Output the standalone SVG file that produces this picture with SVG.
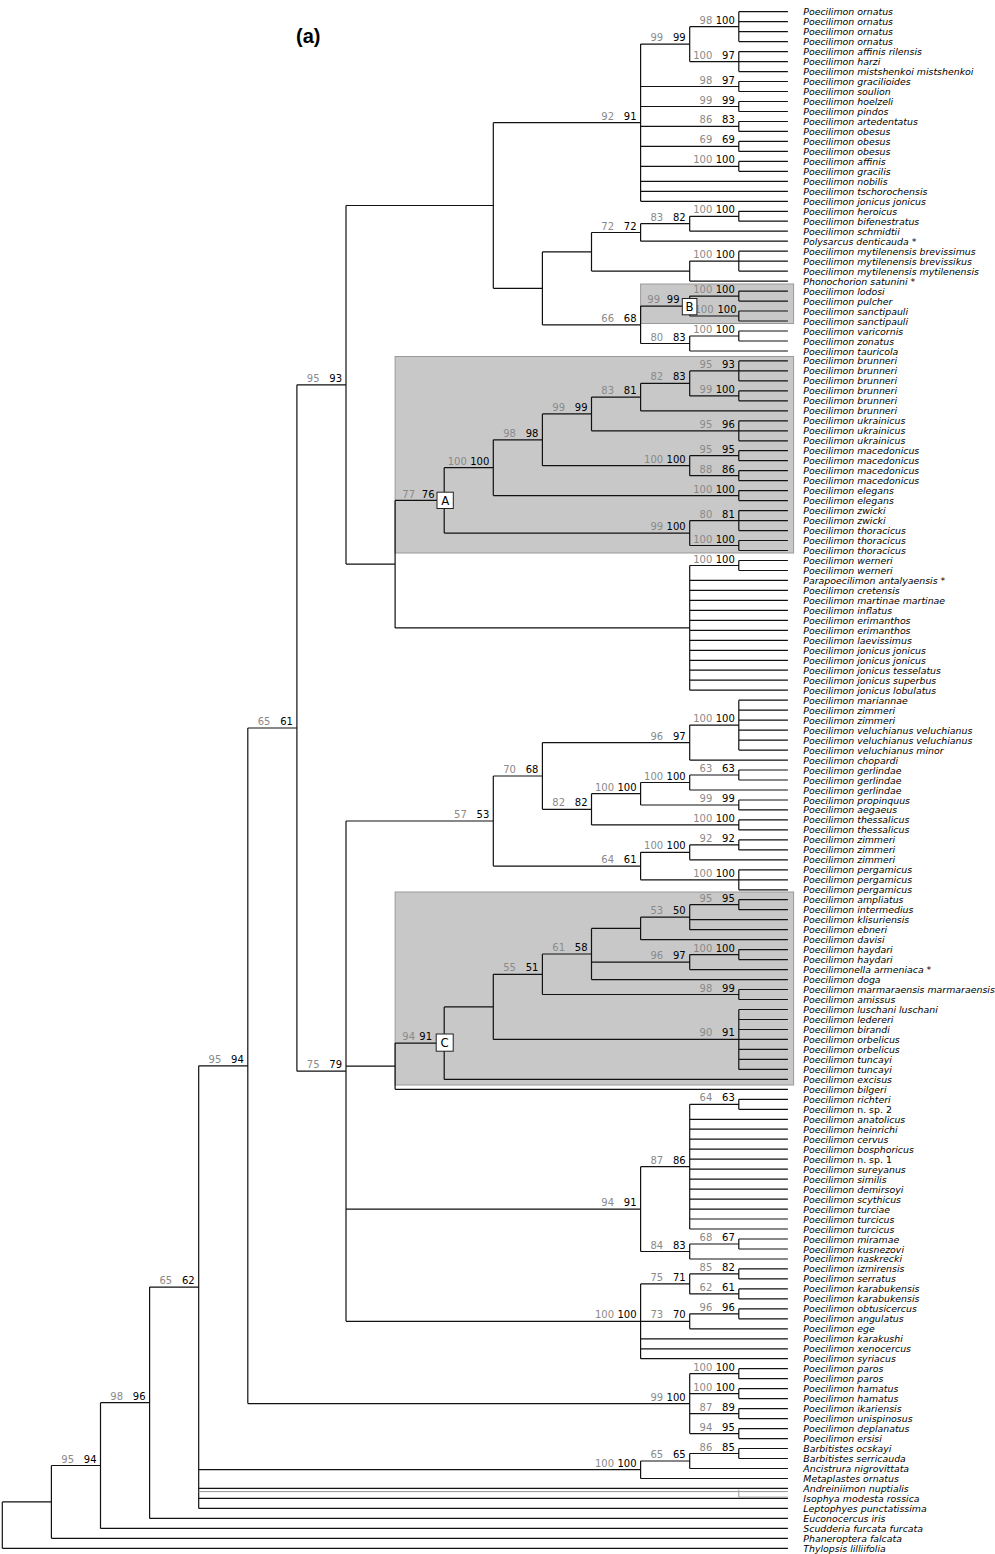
<svg xmlns="http://www.w3.org/2000/svg" width="995" height="1554" viewBox="0 0 995 1554">
<style>
.ln{fill:none;stroke:#111;stroke-width:1.2}
.alt{fill:none;stroke:#999;stroke-width:1}
.clade{fill:#c8c8c8;stroke:#9a9a9a;stroke-width:1}
.lbox{fill:#fff;stroke:#222;stroke-width:1}
.lt{font-family:"DejaVu Sans Condensed","DejaVu Sans",sans-serif;font-stretch:condensed;font-size:13px;text-anchor:middle;fill:#000}
.leaves text{font-family:"DejaVu Sans","Noto Sans",sans-serif;font-size:9.4px;font-style:italic;fill:#000}
.up{font-style:normal}
.g{font-family:"DejaVu Sans",sans-serif;font-size:10px;fill:#8a8a8a;text-anchor:end}
.b{font-family:"DejaVu Sans",sans-serif;font-size:10px;fill:#000;text-anchor:end}
.title{font-family:"Liberation Sans",Arial,sans-serif;font-weight:bold;font-size:20px;fill:#000}
</style>
<rect width="995" height="1554" fill="#fff"/>
<text class="title" x="296" y="43">(a)</text>
<g id="clade-boxes">
<rect id="box-B" class="clade" x="640.6" y="284" width="153" height="39.5"/>
<rect id="box-A" class="clade" x="395.1" y="356.5" width="398.5" height="196.5"/>
<rect id="box-C" class="clade" x="395.1" y="892" width="398.5" height="193"/>
</g>
<g id="connectors">
<path class="ln" d="M738.8 11.7V41.6M738.8 11.7H787.9M738.8 21.7H787.9M738.8 31.7H787.9M738.8 41.6H787.9M738.8 51.6V71.6M738.8 51.6H787.9M738.8 61.6H787.9M738.8 71.6H787.9M689.7 26.7V61.6M689.7 26.7H738.8M689.7 61.6H738.8M738.8 81.5V91.5M738.8 81.5H787.9M738.8 91.5H787.9M738.8 101.5V111.5M738.8 101.5H787.9M738.8 111.5H787.9M738.8 121.5V131.4M738.8 121.5H787.9M738.8 131.4H787.9M738.8 141.4V151.4M738.8 141.4H787.9M738.8 151.4H787.9M738.8 161.4V171.3M738.8 161.4H787.9M738.8 171.3H787.9M640.6 44.1V201.3M640.6 44.1H689.7M640.6 86.5H738.8M640.6 106.5H738.8M640.6 126.4H738.8M640.6 146.4H738.8M640.6 166.4H738.8M640.6 181.3H787.9M640.6 191.3H787.9M640.6 201.3H787.9M738.8 211.3V221.2M738.8 211.3H787.9M738.8 221.2H787.9M689.7 216.3V231.2M689.7 216.3H738.8M689.7 231.2H787.9M640.6 223.7V241.2M640.6 223.7H689.7M640.6 241.2H787.9M738.8 251.2V271.1M738.8 251.2H787.9M738.8 261.1H787.9M738.8 271.1H787.9M689.7 261.1V281.1M689.7 261.1H738.8M689.7 281.1H787.9M591.5 232.5V271.1M591.5 232.5H640.6M591.5 271.1H689.7M738.8 291.1V301.1M738.8 291.1H787.9M738.8 301.1H787.9M738.8 311V321M738.8 311H787.9M738.8 321H787.9M689.7 296.1V316M689.7 296.1H738.8M689.7 316H738.8M738.8 331V341M738.8 331H787.9M738.8 341H787.9M689.7 336V351M689.7 336H738.8M689.7 351H787.9M640.6 306.1V343.5M640.6 306.1H689.7M640.6 343.5H689.7M542.4 251.8V324.8M542.4 251.8H591.5M542.4 324.8H640.6M493.3 122.7V288.3M493.3 122.7H640.6M493.3 288.3H542.4"/>
<path class="ln" d="M738.8 360.9V380.9M738.8 360.9H787.9M738.8 370.9H787.9M738.8 380.9H787.9M738.8 390.9V400.8M738.8 390.9H787.9M738.8 400.8H787.9M689.7 370.9V395.9M689.7 370.9H738.8M689.7 395.9H738.8M640.6 383.4V410.8M640.6 383.4H689.7M640.6 410.8H787.9M738.8 420.8V440.8M738.8 420.8H787.9M738.8 430.8H787.9M738.8 440.8H787.9M591.5 397.1V430.8M591.5 397.1H640.6M591.5 430.8H738.8M738.8 450.7V460.7M738.8 450.7H787.9M738.8 460.7H787.9M738.8 470.7V480.7M738.8 470.7H787.9M738.8 480.7H787.9M689.7 455.7V475.7M689.7 455.7H738.8M689.7 475.7H738.8M542.4 413.9V465.7M542.4 413.9H591.5M542.4 465.7H689.7M738.8 490.6V500.6M738.8 490.6H787.9M738.8 500.6H787.9M493.3 439.8V495.6M493.3 439.8H542.4M493.3 495.6H738.8M738.8 510.6V530.6M738.8 510.6H787.9M738.8 520.6H787.9M738.8 530.6H787.9M738.8 540.5V550.5M738.8 540.5H787.9M738.8 550.5H787.9M689.7 520.6V545.5M689.7 520.6H738.8M689.7 545.5H738.8M444.2 467.7V533.1M444.2 467.7H493.3M444.2 533.1H689.7M738.8 560.5V570.5M738.8 560.5H787.9M738.8 570.5H787.9M689.7 565.5V690.2M689.7 565.5H738.8M689.7 580.4H787.9M689.7 590.4H787.9M689.7 600.4H787.9M689.7 610.4H787.9M689.7 620.4H787.9M689.7 630.3H787.9M689.7 640.3H787.9M689.7 650.3H787.9M689.7 660.3H787.9M689.7 670.2H787.9M689.7 680.2H787.9M689.7 690.2H787.9M395.1 500.4V627.9M395.1 500.4H444.2M395.1 627.9H689.7M346 205.5V564.1M346 205.5H493.3M346 564.1H395.1"/>
<path class="ln" d="M738.8 700.2V750.1M738.8 700.2H787.9M738.8 710.2H787.9M738.8 720.1H787.9M738.8 730.1H787.9M738.8 740.1H787.9M738.8 750.1H787.9M689.7 725.1V760.1M689.7 725.1H738.8M689.7 760.1H787.9M738.8 770V780M738.8 770H787.9M738.8 780H787.9M689.7 775V790M689.7 775H738.8M689.7 790H787.9M738.8 800V809.9M738.8 800H787.9M738.8 809.9H787.9M640.6 782.5V805M640.6 782.5H689.7M640.6 805H738.8M738.8 819.9V829.9M738.8 819.9H787.9M738.8 829.9H787.9M591.5 793.7V824.9M591.5 793.7H640.6M591.5 824.9H738.8M542.4 742.6V809.3M542.4 742.6H689.7M542.4 809.3H591.5M738.8 839.9V849.9M738.8 839.9H787.9M738.8 849.9H787.9M689.7 844.9V859.8M689.7 844.9H738.8M689.7 859.8H787.9M738.8 869.8V889.8M738.8 869.8H787.9M738.8 879.8H787.9M738.8 889.8H787.9M640.6 852.3V879.8M640.6 852.3H689.7M640.6 879.8H738.8M493.3 776V866.1M493.3 776H542.4M493.3 866.1H640.6"/>
<path class="ln" d="M738.8 899.7V909.7M738.8 899.7H787.9M738.8 909.7H787.9M689.7 904.7V929.7M689.7 904.7H738.8M689.7 919.7H787.9M689.7 929.7H787.9M640.6 917.2V939.7M640.6 917.2H689.7M640.6 939.7H787.9M738.8 949.6V959.6M738.8 949.6H787.9M738.8 959.6H787.9M689.7 954.6V969.6M689.7 954.6H738.8M689.7 969.6H787.9M591.5 928.4V979.6M591.5 928.4H640.6M591.5 962.1H689.7M591.5 979.6H787.9M738.8 989.5V999.5M738.8 989.5H787.9M738.8 999.5H787.9M542.4 954V994.5M542.4 954H591.5M542.4 994.5H738.8M738.8 1009.5V1069.4M738.8 1009.5H787.9M738.8 1019.5H787.9M738.8 1029.5H787.9M738.8 1039.4H787.9M738.8 1049.4H787.9M738.8 1059.4H787.9M738.8 1069.4H787.9M493.3 974.3V1039.4M493.3 974.3H542.4M493.3 1039.4H738.8M444.2 1006.9V1079.4M444.2 1006.9H493.3M444.2 1079.4H787.9M395.1 1043.1V1089.3M395.1 1043.1H444.2M395.1 1089.3H787.9"/>
<path class="ln" d="M738.8 1099.3V1109.3M738.8 1099.3H787.9M738.8 1109.3H787.9M689.7 1104.3V1229M689.7 1104.3H738.8M689.7 1119.3H787.9M689.7 1129.2H787.9M689.7 1139.2H787.9M689.7 1149.2H787.9M689.7 1159.2H787.9M689.7 1169.2H787.9M689.7 1179.1H787.9M689.7 1189.1H787.9M689.7 1199.1H787.9M689.7 1209.1H787.9M689.7 1219H787.9M689.7 1229H787.9M738.8 1239V1249M738.8 1239H787.9M738.8 1249H787.9M689.7 1244V1259M689.7 1244H738.8M689.7 1259H787.9M640.6 1166.7V1251.5M640.6 1166.7H689.7M640.6 1251.5H689.7M738.8 1268.9V1278.9M738.8 1268.9H787.9M738.8 1278.9H787.9M738.8 1288.9V1298.9M738.8 1288.9H787.9M738.8 1298.9H787.9M689.7 1273.9V1293.9M689.7 1273.9H738.8M689.7 1293.9H738.8M738.8 1308.8V1318.8M738.8 1308.8H787.9M738.8 1318.8H787.9M689.7 1313.8V1328.8M689.7 1313.8H738.8M689.7 1328.8H787.9M640.6 1283.9V1358.7M640.6 1283.9H689.7M640.6 1321.3H689.7M640.6 1338.8H787.9M640.6 1348.8H787.9M640.6 1358.7H787.9M346 821V1321.3M346 821H493.3M346 1066.2H395.1M346 1209.1H640.6M346 1321.3H640.6M296.9 384.8V1071.2M296.9 384.8H346M296.9 1071.2H346"/>
<path class="ln" d="M738.8 1368.7V1378.7M738.8 1368.7H787.9M738.8 1378.7H787.9M738.8 1388.7V1398.6M738.8 1388.7H787.9M738.8 1398.6H787.9M738.8 1408.6V1418.6M738.8 1408.6H787.9M738.8 1418.6H787.9M738.8 1428.6V1438.6M738.8 1428.6H787.9M738.8 1438.6H787.9M689.7 1373.7V1433.6M689.7 1373.7H738.8M689.7 1393.7H738.8M689.7 1413.6H738.8M689.7 1433.6H738.8M247.8 728V1403.6M247.8 728H296.9M247.8 1403.6H689.7M738.8 1448.5V1458.5M738.8 1448.5H787.9M738.8 1458.5H787.9M689.7 1453.5V1468.5M689.7 1453.5H738.8M689.7 1468.5H787.9M640.6 1461V1478.5M640.6 1461H689.7M640.6 1478.5H787.9M198.7 1065.8V1508.4M198.7 1065.8H247.8M198.7 1469.7H640.6M198.7 1488.4H787.9M198.7 1498.4H787.9M198.7 1508.4H787.9M149.6 1287.1V1518.4M149.6 1287.1H198.7M149.6 1518.4H787.9M100.5 1402.7V1528.4M100.5 1402.7H149.6M100.5 1528.4H787.9M51.4 1465.5V1538.3M51.4 1465.5H100.5M51.4 1538.3H787.9M2.3 1501.9V1548.3M2.3 1501.9H51.4M2.3 1548.3H787.9"/>
<path class="alt" d="M198.7 1491.6H738.8M738.8 1489.6V1497.2H787.9M738.8 1491.6H787.9"/>
</g>
<g id="support">
<g id="n-a1"><text class="g" x="712.3" y="23.7">98</text><text class="b" x="734.8" y="23.7">100</text></g>
<g id="n-a2"><text class="g" x="712.3" y="58.6">100</text><text class="b" x="734.8" y="58.6">97</text></g>
<g id="n-a3"><text class="g" x="663.2" y="41.1">99</text><text class="b" x="685.7" y="41.1">99</text></g>
<g id="n-a4"><text class="g" x="712.3" y="83.5">98</text><text class="b" x="734.8" y="83.5">97</text></g>
<g id="n-a5"><text class="g" x="712.3" y="103.5">99</text><text class="b" x="734.8" y="103.5">99</text></g>
<g id="n-a6"><text class="g" x="712.3" y="123.4">86</text><text class="b" x="734.8" y="123.4">83</text></g>
<g id="n-a7"><text class="g" x="712.3" y="143.4">69</text><text class="b" x="734.8" y="143.4">69</text></g>
<g id="n-a8"><text class="g" x="712.3" y="163.4">100</text><text class="b" x="734.8" y="163.4">100</text></g>
<g id="n-a9"><text class="g" x="614.1" y="119.7">92</text><text class="b" x="636.6" y="119.7">91</text></g>
<g id="n-b1"><text class="g" x="712.3" y="213.3">100</text><text class="b" x="734.8" y="213.3">100</text></g>
<g id="n-b2"><text class="g" x="663.2" y="220.7">83</text><text class="b" x="685.7" y="220.7">82</text></g>
<g id="n-b3"><text class="g" x="614.1" y="229.5">72</text><text class="b" x="636.6" y="229.5">72</text></g>
<g id="n-b4"><text class="g" x="712.3" y="258.1">100</text><text class="b" x="734.8" y="258.1">100</text></g>
<g id="n-c1"><text class="g" x="712.3" y="293.1">100</text><text class="b" x="734.8" y="293.1">100</text></g>
<g id="n-c2"><text class="g" x="713.5" y="313">100</text><text class="b" x="736.5" y="313">100</text></g>
<g id="n-cB"><text class="g" x="660" y="303.3">99</text><text class="b" x="679.5" y="303.3">99</text></g>
<g id="n-c4"><text class="g" x="712.3" y="333">100</text><text class="b" x="734.8" y="333">100</text></g>
<g id="n-c5"><text class="g" x="663.2" y="340.5">80</text><text class="b" x="685.7" y="340.5">83</text></g>
<g id="n-c6"><text class="g" x="614.1" y="321.8">66</text><text class="b" x="636.6" y="321.8">68</text></g>
<g id="n-d1"><text class="g" x="712.3" y="367.9">95</text><text class="b" x="734.8" y="367.9">93</text></g>
<g id="n-d2"><text class="g" x="712.3" y="392.9">99</text><text class="b" x="734.8" y="392.9">100</text></g>
<g id="n-d3"><text class="g" x="663.2" y="380.4">82</text><text class="b" x="685.7" y="380.4">83</text></g>
<g id="n-d4"><text class="g" x="614.1" y="394.1">83</text><text class="b" x="636.6" y="394.1">81</text></g>
<g id="n-d5"><text class="g" x="712.3" y="427.8">95</text><text class="b" x="734.8" y="427.8">96</text></g>
<g id="n-d6"><text class="g" x="565" y="410.9">99</text><text class="b" x="587.5" y="410.9">99</text></g>
<g id="n-d7"><text class="g" x="712.3" y="452.7">95</text><text class="b" x="734.8" y="452.7">95</text></g>
<g id="n-d8"><text class="g" x="712.3" y="472.7">88</text><text class="b" x="734.8" y="472.7">86</text></g>
<g id="n-d9"><text class="g" x="663.2" y="462.7">100</text><text class="b" x="685.7" y="462.7">100</text></g>
<g id="n-d10"><text class="g" x="515.9" y="436.8">98</text><text class="b" x="538.4" y="436.8">98</text></g>
<g id="n-d11"><text class="g" x="712.3" y="492.6">100</text><text class="b" x="734.8" y="492.6">100</text></g>
<g id="n-d12"><text class="g" x="466.8" y="464.7">100</text><text class="b" x="489.3" y="464.7">100</text></g>
<g id="n-d13"><text class="g" x="712.3" y="517.6">80</text><text class="b" x="734.8" y="517.6">81</text></g>
<g id="n-d14"><text class="g" x="712.3" y="542.5">100</text><text class="b" x="734.8" y="542.5">100</text></g>
<g id="n-d15"><text class="g" x="663.2" y="530.1">99</text><text class="b" x="685.7" y="530.1">100</text></g>
<g id="n-A"><text class="g" x="415" y="497.6">77</text><text class="b" x="434.5" y="497.6">76</text></g>
<g id="n-e1"><text class="g" x="712.3" y="562.5">100</text><text class="b" x="734.8" y="562.5">100</text></g>
<g id="n-g1"><text class="g" x="319.5" y="381.8">95</text><text class="b" x="342" y="381.8">93</text></g>
<g id="n-h1"><text class="g" x="712.3" y="722.1">100</text><text class="b" x="734.8" y="722.1">100</text></g>
<g id="n-h2"><text class="g" x="663.2" y="739.6">96</text><text class="b" x="685.7" y="739.6">97</text></g>
<g id="n-h3"><text class="g" x="712.3" y="772">63</text><text class="b" x="734.8" y="772">63</text></g>
<g id="n-h4"><text class="g" x="663.2" y="779.5">100</text><text class="b" x="685.7" y="779.5">100</text></g>
<g id="n-h5"><text class="g" x="712.3" y="802">99</text><text class="b" x="734.8" y="802">99</text></g>
<g id="n-h6"><text class="g" x="614.1" y="790.7">100</text><text class="b" x="636.6" y="790.7">100</text></g>
<g id="n-h7"><text class="g" x="712.3" y="821.9">100</text><text class="b" x="734.8" y="821.9">100</text></g>
<g id="n-h8"><text class="g" x="565" y="806.3">82</text><text class="b" x="587.5" y="806.3">82</text></g>
<g id="n-h9"><text class="g" x="515.9" y="773">70</text><text class="b" x="538.4" y="773">68</text></g>
<g id="n-i1"><text class="g" x="712.3" y="841.9">92</text><text class="b" x="734.8" y="841.9">92</text></g>
<g id="n-i2"><text class="g" x="663.2" y="849.3">100</text><text class="b" x="685.7" y="849.3">100</text></g>
<g id="n-i3"><text class="g" x="712.3" y="876.8">100</text><text class="b" x="734.8" y="876.8">100</text></g>
<g id="n-i4"><text class="g" x="614.1" y="863.1">64</text><text class="b" x="636.6" y="863.1">61</text></g>
<g id="n-j1"><text class="g" x="466.8" y="818">57</text><text class="b" x="489.3" y="818">53</text></g>
<g id="n-k1"><text class="g" x="712.3" y="901.7">95</text><text class="b" x="734.8" y="901.7">95</text></g>
<g id="n-k2"><text class="g" x="663.2" y="914.2">53</text><text class="b" x="685.7" y="914.2">50</text></g>
<g id="n-k4"><text class="g" x="712.3" y="951.6">100</text><text class="b" x="734.8" y="951.6">100</text></g>
<g id="n-k5"><text class="g" x="663.2" y="959.1">96</text><text class="b" x="685.7" y="959.1">97</text></g>
<g id="n-k6"><text class="g" x="565" y="951">61</text><text class="b" x="587.5" y="951">58</text></g>
<g id="n-k7"><text class="g" x="712.3" y="991.5">98</text><text class="b" x="734.8" y="991.5">99</text></g>
<g id="n-k8"><text class="g" x="515.9" y="971.3">55</text><text class="b" x="538.4" y="971.3">51</text></g>
<g id="n-k9"><text class="g" x="712.3" y="1036.4">90</text><text class="b" x="734.8" y="1036.4">91</text></g>
<g id="n-C"><text class="g" x="415" y="1040.1">94</text><text class="b" x="432" y="1040.1">91</text></g>
<g id="n-n1"><text class="g" x="712.3" y="1101.3">64</text><text class="b" x="734.8" y="1101.3">63</text></g>
<g id="n-n2"><text class="g" x="663.2" y="1163.7">87</text><text class="b" x="685.7" y="1163.7">86</text></g>
<g id="n-n3"><text class="g" x="712.3" y="1241">68</text><text class="b" x="734.8" y="1241">67</text></g>
<g id="n-n4"><text class="g" x="663.2" y="1248.5">84</text><text class="b" x="685.7" y="1248.5">83</text></g>
<g id="n-n5"><text class="g" x="614.1" y="1206.1">94</text><text class="b" x="636.6" y="1206.1">91</text></g>
<g id="n-o1"><text class="g" x="712.3" y="1270.9">85</text><text class="b" x="734.8" y="1270.9">82</text></g>
<g id="n-o2"><text class="g" x="712.3" y="1290.9">62</text><text class="b" x="734.8" y="1290.9">61</text></g>
<g id="n-o3"><text class="g" x="663.2" y="1280.9">75</text><text class="b" x="685.7" y="1280.9">71</text></g>
<g id="n-o4"><text class="g" x="712.3" y="1310.8">96</text><text class="b" x="734.8" y="1310.8">96</text></g>
<g id="n-o5"><text class="g" x="663.2" y="1318.3">73</text><text class="b" x="685.7" y="1318.3">70</text></g>
<g id="n-o6"><text class="g" x="614.1" y="1318.3">100</text><text class="b" x="636.6" y="1318.3">100</text></g>
<g id="n-p1"><text class="g" x="319.5" y="1068.2">75</text><text class="b" x="342" y="1068.2">79</text></g>
<g id="n-q1"><text class="g" x="270.4" y="725">65</text><text class="b" x="292.9" y="725">61</text></g>
<g id="n-r1"><text class="g" x="712.3" y="1370.7">100</text><text class="b" x="734.8" y="1370.7">100</text></g>
<g id="n-r2"><text class="g" x="712.3" y="1390.7">100</text><text class="b" x="734.8" y="1390.7">100</text></g>
<g id="n-r3"><text class="g" x="712.3" y="1410.6">87</text><text class="b" x="734.8" y="1410.6">89</text></g>
<g id="n-r4"><text class="g" x="712.3" y="1430.6">94</text><text class="b" x="734.8" y="1430.6">95</text></g>
<g id="n-r5"><text class="g" x="663.2" y="1400.6">99</text><text class="b" x="685.7" y="1400.6">100</text></g>
<g id="n-s1"><text class="g" x="221.3" y="1062.8">95</text><text class="b" x="243.8" y="1062.8">94</text></g>
<g id="n-t1"><text class="g" x="712.3" y="1450.5">86</text><text class="b" x="734.8" y="1450.5">85</text></g>
<g id="n-t2"><text class="g" x="663.2" y="1458">65</text><text class="b" x="685.7" y="1458">65</text></g>
<g id="n-t3"><text class="g" x="614.1" y="1466.7">100</text><text class="b" x="636.6" y="1466.7">100</text></g>
<g id="n-u1"><text class="g" x="172.2" y="1284.1">65</text><text class="b" x="194.7" y="1284.1">62</text></g>
<g id="n-u2"><text class="g" x="123.1" y="1399.7">98</text><text class="b" x="145.6" y="1399.7">96</text></g>
<g id="n-u3"><text class="g" x="74" y="1462.5">95</text><text class="b" x="96.5" y="1462.5">94</text></g>
</g>
<g id="clade-labels">
<g id="label-A"><rect class="lbox" x="437" y="492.2" width="16.3" height="16.3"/><text class="lt" x="445.2" y="505.2">A</text></g>
<g id="label-B"><rect class="lbox" x="682.3" y="298.5" width="14.6" height="16.3"/><text class="lt" x="689.6" y="311.4">B</text></g>
<g id="label-C"><rect class="lbox" x="436.2" y="1034" width="17" height="17.2"/><text class="lt" x="444.7" y="1047.3">C</text></g>
</g>
<g class="leaves">
<g id="leaf1"><text x="803.3" y="15.2">Poecilimon ornatus</text></g>
<g id="leaf2"><text x="803.3" y="25.2">Poecilimon ornatus</text></g>
<g id="leaf3"><text x="803.3" y="35.2">Poecilimon ornatus</text></g>
<g id="leaf4"><text x="803.3" y="45.1">Poecilimon ornatus</text></g>
<g id="leaf5"><text x="803.3" y="55.1">Poecilimon affinis rilensis</text></g>
<g id="leaf6"><text x="803.3" y="65.1">Poecilimon harzi</text></g>
<g id="leaf7"><text x="803.3" y="75.1">Poecilimon mistshenkoi mistshenkoi</text></g>
<g id="leaf8"><text x="803.3" y="85">Poecilimon gracilioides</text></g>
<g id="leaf9"><text x="803.3" y="95">Poecilimon soulion</text></g>
<g id="leaf10"><text x="803.3" y="105">Poecilimon hoelzeli</text></g>
<g id="leaf11"><text x="803.3" y="115">Poecilimon pindos</text></g>
<g id="leaf12"><text x="803.3" y="125">Poecilimon artedentatus</text></g>
<g id="leaf13"><text x="803.3" y="134.9">Poecilimon obesus</text></g>
<g id="leaf14"><text x="803.3" y="144.9">Poecilimon obesus</text></g>
<g id="leaf15"><text x="803.3" y="154.9">Poecilimon obesus</text></g>
<g id="leaf16"><text x="803.3" y="164.9">Poecilimon affinis</text></g>
<g id="leaf17"><text x="803.3" y="174.8">Poecilimon gracilis</text></g>
<g id="leaf18"><text x="803.3" y="184.8">Poecilimon nobilis</text></g>
<g id="leaf19"><text x="803.3" y="194.8">Poecilimon tschorochensis</text></g>
<g id="leaf20"><text x="803.3" y="204.8">Poecilimon jonicus jonicus</text></g>
<g id="leaf21"><text x="803.3" y="214.8">Poecilimon heroicus</text></g>
<g id="leaf22"><text x="803.3" y="224.7">Poecilimon bifenestratus</text></g>
<g id="leaf23"><text x="803.3" y="234.7">Poecilimon schmidtii</text></g>
<g id="leaf24"><text x="803.3" y="244.7">Polysarcus denticauda *</text></g>
<g id="leaf25"><text x="803.3" y="254.7">Poecilimon mytilenensis brevissimus</text></g>
<g id="leaf26"><text x="803.3" y="264.6">Poecilimon mytilenensis brevissikus</text></g>
<g id="leaf27"><text x="803.3" y="274.6">Poecilimon mytilenensis mytilenensis</text></g>
<g id="leaf28"><text x="803.3" y="284.6">Phonochorion satunini *</text></g>
<g id="leaf29"><text x="803.3" y="294.6">Poecilimon lodosi</text></g>
<g id="leaf30"><text x="803.3" y="304.6">Poecilimon pulcher</text></g>
<g id="leaf31"><text x="803.3" y="314.5">Poecilimon sanctipauli</text></g>
<g id="leaf32"><text x="803.3" y="324.5">Poecilimon sanctipauli</text></g>
<g id="leaf33"><text x="803.3" y="334.5">Poecilimon varicornis</text></g>
<g id="leaf34"><text x="803.3" y="344.5">Poecilimon zonatus</text></g>
<g id="leaf35"><text x="803.3" y="354.5">Poecilimon tauricola</text></g>
<g id="leaf36"><text x="803.3" y="364.4">Poecilimon brunneri</text></g>
<g id="leaf37"><text x="803.3" y="374.4">Poecilimon brunneri</text></g>
<g id="leaf38"><text x="803.3" y="384.4">Poecilimon brunneri</text></g>
<g id="leaf39"><text x="803.3" y="394.4">Poecilimon brunneri</text></g>
<g id="leaf40"><text x="803.3" y="404.3">Poecilimon brunneri</text></g>
<g id="leaf41"><text x="803.3" y="414.3">Poecilimon brunneri</text></g>
<g id="leaf42"><text x="803.3" y="424.3">Poecilimon ukrainicus</text></g>
<g id="leaf43"><text x="803.3" y="434.3">Poecilimon ukrainicus</text></g>
<g id="leaf44"><text x="803.3" y="444.3">Poecilimon ukrainicus</text></g>
<g id="leaf45"><text x="803.3" y="454.2">Poecilimon macedonicus</text></g>
<g id="leaf46"><text x="803.3" y="464.2">Poecilimon macedonicus</text></g>
<g id="leaf47"><text x="803.3" y="474.2">Poecilimon macedonicus</text></g>
<g id="leaf48"><text x="803.3" y="484.2">Poecilimon macedonicus</text></g>
<g id="leaf49"><text x="803.3" y="494.1">Poecilimon elegans</text></g>
<g id="leaf50"><text x="803.3" y="504.1">Poecilimon elegans</text></g>
<g id="leaf51"><text x="803.3" y="514.1">Poecilimon zwicki</text></g>
<g id="leaf52"><text x="803.3" y="524.1">Poecilimon zwicki</text></g>
<g id="leaf53"><text x="803.3" y="534.1">Poecilimon thoracicus</text></g>
<g id="leaf54"><text x="803.3" y="544">Poecilimon thoracicus</text></g>
<g id="leaf55"><text x="803.3" y="554">Poecilimon thoracicus</text></g>
<g id="leaf56"><text x="803.3" y="564">Poecilimon werneri</text></g>
<g id="leaf57"><text x="803.3" y="574">Poecilimon werneri</text></g>
<g id="leaf58"><text x="803.3" y="584">Parapoecilimon antalyaensis *</text></g>
<g id="leaf59"><text x="803.3" y="593.9">Poecilimon cretensis</text></g>
<g id="leaf60"><text x="803.3" y="603.9">Poecilimon martinae martinae</text></g>
<g id="leaf61"><text x="803.3" y="613.9">Poecilimon inflatus</text></g>
<g id="leaf62"><text x="803.3" y="623.9">Poecilimon erimanthos</text></g>
<g id="leaf63"><text x="803.3" y="633.8">Poecilimon erimanthos</text></g>
<g id="leaf64"><text x="803.3" y="643.8">Poecilimon laevissimus</text></g>
<g id="leaf65"><text x="803.3" y="653.8">Poecilimon jonicus jonicus</text></g>
<g id="leaf66"><text x="803.3" y="663.8">Poecilimon jonicus jonicus</text></g>
<g id="leaf67"><text x="803.3" y="673.8">Poecilimon jonicus tesselatus</text></g>
<g id="leaf68"><text x="803.3" y="683.7">Poecilimon jonicus superbus</text></g>
<g id="leaf69"><text x="803.3" y="693.7">Poecilimon jonicus lobulatus</text></g>
<g id="leaf70"><text x="803.3" y="703.7">Poecilimon mariannae</text></g>
<g id="leaf71"><text x="803.3" y="713.7">Poecilimon zimmeri</text></g>
<g id="leaf72"><text x="803.3" y="723.6">Poecilimon zimmeri</text></g>
<g id="leaf73"><text x="803.3" y="733.6">Poecilimon veluchianus veluchianus</text></g>
<g id="leaf74"><text x="803.3" y="743.6">Poecilimon veluchianus veluchianus</text></g>
<g id="leaf75"><text x="803.3" y="753.6">Poecilimon veluchianus minor</text></g>
<g id="leaf76"><text x="803.3" y="763.6">Poecilimon chopardi</text></g>
<g id="leaf77"><text x="803.3" y="773.5">Poecilimon gerlindae</text></g>
<g id="leaf78"><text x="803.3" y="783.5">Poecilimon gerlindae</text></g>
<g id="leaf79"><text x="803.3" y="793.5">Poecilimon gerlindae</text></g>
<g id="leaf80"><text x="803.3" y="803.5">Poecilimon propinquus</text></g>
<g id="leaf81"><text x="803.3" y="813.4">Poecilimon aegaeus</text></g>
<g id="leaf82"><text x="803.3" y="823.4">Poecilimon thessalicus</text></g>
<g id="leaf83"><text x="803.3" y="833.4">Poecilimon thessalicus</text></g>
<g id="leaf84"><text x="803.3" y="843.4">Poecilimon zimmeri</text></g>
<g id="leaf85"><text x="803.3" y="853.4">Poecilimon zimmeri</text></g>
<g id="leaf86"><text x="803.3" y="863.3">Poecilimon zimmeri</text></g>
<g id="leaf87"><text x="803.3" y="873.3">Poecilimon pergamicus</text></g>
<g id="leaf88"><text x="803.3" y="883.3">Poecilimon pergamicus</text></g>
<g id="leaf89"><text x="803.3" y="893.3">Poecilimon pergamicus</text></g>
<g id="leaf90"><text x="803.3" y="903.2">Poecilimon ampliatus</text></g>
<g id="leaf91"><text x="803.3" y="913.2">Poecilimon intermedius</text></g>
<g id="leaf92"><text x="803.3" y="923.2">Poecilimon klisuriensis</text></g>
<g id="leaf93"><text x="803.3" y="933.2">Poecilimon ebneri</text></g>
<g id="leaf94"><text x="803.3" y="943.2">Poecilimon davisi</text></g>
<g id="leaf95"><text x="803.3" y="953.1">Poecilimon haydari</text></g>
<g id="leaf96"><text x="803.3" y="963.1">Poecilimon haydari</text></g>
<g id="leaf97"><text x="803.3" y="973.1">Poecilimonella armeniaca *</text></g>
<g id="leaf98"><text x="803.3" y="983.1">Poecilimon doga</text></g>
<g id="leaf99"><text x="803.3" y="993">Poecilimon marmaraensis marmaraensis</text></g>
<g id="leaf100"><text x="803.3" y="1003">Poecilimon amissus</text></g>
<g id="leaf101"><text x="803.3" y="1013">Poecilimon luschani luschani</text></g>
<g id="leaf102"><text x="803.3" y="1023">Poecilimon ledereri</text></g>
<g id="leaf103"><text x="803.3" y="1033">Poecilimon birandi</text></g>
<g id="leaf104"><text x="803.3" y="1042.9">Poecilimon orbelicus</text></g>
<g id="leaf105"><text x="803.3" y="1052.9">Poecilimon orbelicus</text></g>
<g id="leaf106"><text x="803.3" y="1062.9">Poecilimon tuncayi</text></g>
<g id="leaf107"><text x="803.3" y="1072.9">Poecilimon tuncayi</text></g>
<g id="leaf108"><text x="803.3" y="1082.8">Poecilimon excisus</text></g>
<g id="leaf109"><text x="803.3" y="1092.8">Poecilimon bilgeri</text></g>
<g id="leaf110"><text x="803.3" y="1102.8">Poecilimon richteri</text></g>
<g id="leaf111"><text x="803.3" y="1112.8">Poecilimon <tspan class="up">n. sp. 2</tspan></text></g>
<g id="leaf112"><text x="803.3" y="1122.8">Poecilimon anatolicus</text></g>
<g id="leaf113"><text x="803.3" y="1132.7">Poecilimon heinrichi</text></g>
<g id="leaf114"><text x="803.3" y="1142.7">Poecilimon cervus</text></g>
<g id="leaf115"><text x="803.3" y="1152.7">Poecilimon bosphoricus</text></g>
<g id="leaf116"><text x="803.3" y="1162.7">Poecilimon <tspan class="up">n. sp. 1</tspan></text></g>
<g id="leaf117"><text x="803.3" y="1172.6">Poecilimon sureyanus</text></g>
<g id="leaf118"><text x="803.3" y="1182.6">Poecilimon similis</text></g>
<g id="leaf119"><text x="803.3" y="1192.6">Poecilimon demirsoyi</text></g>
<g id="leaf120"><text x="803.3" y="1202.6">Poecilimon scythicus</text></g>
<g id="leaf121"><text x="803.3" y="1212.6">Poecilimon turciae</text></g>
<g id="leaf122"><text x="803.3" y="1222.5">Poecilimon turcicus</text></g>
<g id="leaf123"><text x="803.3" y="1232.5">Poecilimon turcicus</text></g>
<g id="leaf124"><text x="803.3" y="1242.5">Poecilimon miramae</text></g>
<g id="leaf125"><text x="803.3" y="1252.5">Poecilimon kusnezovi</text></g>
<g id="leaf126"><text x="803.3" y="1262.4">Poecilimon naskrecki</text></g>
<g id="leaf127"><text x="803.3" y="1272.4">Poecilimon izmirensis</text></g>
<g id="leaf128"><text x="803.3" y="1282.4">Poecilimon serratus</text></g>
<g id="leaf129"><text x="803.3" y="1292.4">Poecilimon karabukensis</text></g>
<g id="leaf130"><text x="803.3" y="1302.4">Poecilimon karabukensis</text></g>
<g id="leaf131"><text x="803.3" y="1312.3">Poecilimon obtusicercus</text></g>
<g id="leaf132"><text x="803.3" y="1322.3">Poecilimon angulatus</text></g>
<g id="leaf133"><text x="803.3" y="1332.3">Poecilimon ege</text></g>
<g id="leaf134"><text x="803.3" y="1342.3">Poecilimon karakushi</text></g>
<g id="leaf135"><text x="803.3" y="1352.2">Poecilimon xenocercus</text></g>
<g id="leaf136"><text x="803.3" y="1362.2">Poecilimon syriacus</text></g>
<g id="leaf137"><text x="803.3" y="1372.2">Poecilimon paros</text></g>
<g id="leaf138"><text x="803.3" y="1382.2">Poecilimon paros</text></g>
<g id="leaf139"><text x="803.3" y="1392.2">Poecilimon hamatus</text></g>
<g id="leaf140"><text x="803.3" y="1402.1">Poecilimon hamatus</text></g>
<g id="leaf141"><text x="803.3" y="1412.1">Poecilimon ikariensis</text></g>
<g id="leaf142"><text x="803.3" y="1422.1">Poecilimon unispinosus</text></g>
<g id="leaf143"><text x="803.3" y="1432.1">Poecilimon deplanatus</text></g>
<g id="leaf144"><text x="803.3" y="1442">Poecilimon ersisi</text></g>
<g id="leaf145"><text x="803.3" y="1452">Barbitistes ocskayi</text></g>
<g id="leaf146"><text x="803.3" y="1462">Barbitistes serricauda</text></g>
<g id="leaf147"><text x="803.3" y="1472">Ancistrura nigrovittata</text></g>
<g id="leaf148"><text x="803.3" y="1482">Metaplastes ornatus</text></g>
<g id="leaf149"><text x="803.3" y="1491.9">Andreiniimon nuptialis</text></g>
<g id="leaf150"><text x="803.3" y="1501.9">Isophya modesta rossica</text></g>
<g id="leaf151"><text x="803.3" y="1511.9">Leptophyes punctatissima</text></g>
<g id="leaf152"><text x="803.3" y="1521.9">Euconocercus iris</text></g>
<g id="leaf153"><text x="803.3" y="1531.9">Scudderia furcata furcata</text></g>
<g id="leaf154"><text x="803.3" y="1541.8">Phaneroptera falcata</text></g>
<g id="leaf155"><text x="803.3" y="1551.8">Thylopsis lilliifolia</text></g>
</g>
</svg>
